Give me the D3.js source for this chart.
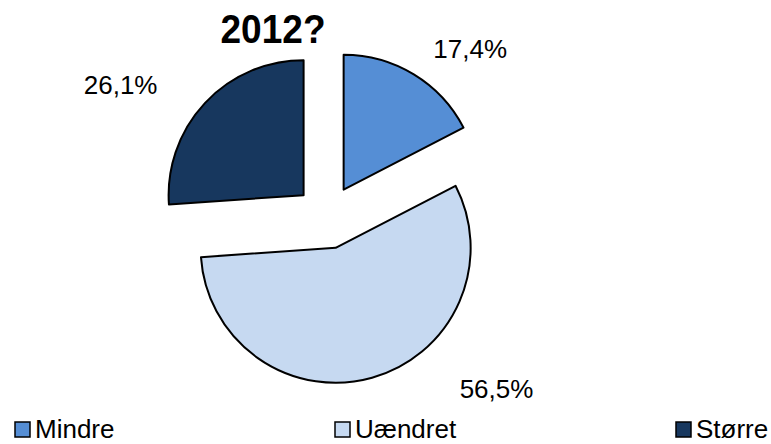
<!DOCTYPE html>
<html>
<head>
<meta charset="utf-8">
<script src="https://cdn.jsdelivr.net/npm/d3@7"></script>
<style>
  body { margin: 0; background: #fff; }
  text { font-family: "Liberation Sans", Arial, sans-serif; fill: #000; }
</style>
</head>
<body>
<script>
// Data
var categories = ["Mindre", "Uændret", "Større"];
var values = [17.4, 56.5, 26.1];
var labels = ["17,4%", "56,5%", "26,1%"];
var colors = ["#558ed5", "#c6d9f1", "#17375e"];

// Layout
var svgWidth = 771;
var svgHeight = 444;
var center = { x: 327, y: 217 };
var radius = 135;
var explode = 32;
// label placement (angle in degrees clockwise from top, distance from centre)
var labelAngle = [40.4, 135.3, 302.6];
var labelDist = [221, 241, 245];
var legendX = [15, 335, 676];

var svg = d3.select("body")
  .append("svg")
  .attr("width", svgWidth)
  .attr("height", svgHeight);

// Title (only the last line is visible)
svg.append("text")
  .attr("x", 273)
  .attr("y", 43)
  .attr("text-anchor", "middle")
  .attr("font-size", 40)
  .attr("font-weight", "bold")
  .attr("textLength", 105)
  .attr("lengthAdjust", "spacingAndGlyphs")
  .text("2012?");

var pie = d3.pie().sort(null)(values);
var arc = d3.arc().innerRadius(0).outerRadius(radius);

var chartGroup = svg.append("g")
  .attr("transform", `translate(${center.x}, ${center.y})`);

chartGroup.selectAll("path")
  .data(pie)
  .enter()
  .append("path")
  .attr("transform", function(d) {
    var mid = (d.startAngle + d.endAngle) / 2;
    return `translate(${Math.sin(mid) * explode}, ${-Math.cos(mid) * explode})`;
  })
  .attr("d", arc)
  .attr("fill", function(d, i) { return colors[i]; })
  .attr("stroke", "#000")
  .attr("stroke-width", 2)
  .attr("stroke-linejoin", "round");

// Data labels
chartGroup.selectAll(".lbl")
  .data(pie)
  .enter()
  .append("text")
  .attr("class", "lbl")
  .attr("x", function(d, i) { return Math.sin(labelAngle[i] * Math.PI / 180) * labelDist[i]; })
  .attr("y", function(d, i) { return -Math.cos(labelAngle[i] * Math.PI / 180) * labelDist[i]; })
  .attr("dy", "0.36em")
  .attr("text-anchor", "middle")
  .attr("font-size", 26)
  .text(function(d, i) { return labels[i]; });

// Legend
var legend = svg.selectAll(".legend")
  .data(categories)
  .enter()
  .append("g")
  .attr("class", "legend")
  .attr("transform", function(d, i) { return `translate(${legendX[i]}, 422)`; });

legend.append("rect")
  .attr("width", 15)
  .attr("height", 15)
  .attr("fill", function(d, i) { return colors[i]; })
  .attr("stroke", "#000")
  .attr("stroke-width", 1.5);

legend.append("text")
  .attr("x", 20)
  .attr("y", 16)
  .attr("font-size", 26)
  .text(function(d) { return d; });
</script>
</body>
</html>
